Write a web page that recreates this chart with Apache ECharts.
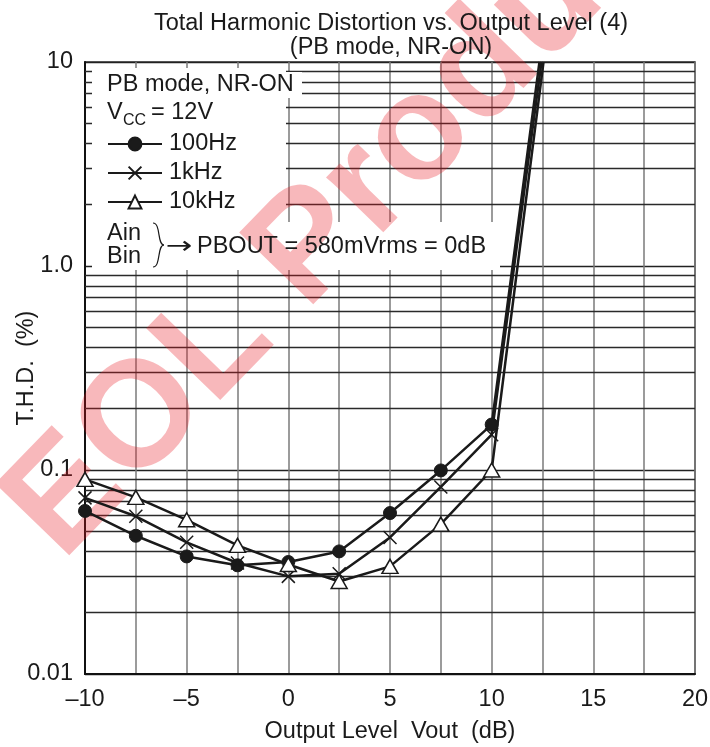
<!DOCTYPE html>
<html>
<head>
<meta charset="utf-8">
<script src="https://cdn.jsdelivr.net/npm/echarts@6/dist/echarts.min.js"></script>
<style>
  html, body { margin: 0; padding: 0; background: #fff; }
  #chart { width: 710px; height: 747px; }
</style>
</head>
<body>
<div id="chart"></div>
<script>
// output level (dB) at the measured points
const levels = [-10, -7.5, -5, -2.5, 0, 2.5, 5, 7.5, 10]
// T.H.D. (%)
const thd100Hz = [0.063, 0.0476, 0.0377, 0.0341, 0.0354, 0.0399, 0.0615, 0.0995, 0.167]
const thd1kHz = [0.073, 0.0593, 0.0442, 0.035, 0.0301, 0.031, 0.0467, 0.0826, 0.149]
const thd10kHz = [0.09, 0.0734, 0.057, 0.0427, 0.0344, 0.0284, 0.0337, 0.0543, 0.1]
// where each curve leaves the top of the plot (dB, %)
const clipLevel = [12.35, 12.45, 12.55]
const clipThd = 10

const xTicks = [-10, -5, 0, 5, 10, 15, 20]
const yTickLabels = { 0.01: '0.01', 0.1: '0.1', 1: '1.0', 10: '10' }
const minorGrid = [0.02, 0.03, 0.04, 0.05, 0.06, 0.07, 0.08, 0.09,
  0.2, 0.3, 0.4, 0.5, 0.6, 0.7, 0.8, 0.9,
  2, 3, 4, 5, 6, 7, 8, 9]

const FONT = "'Liberation Sans', Arial, sans-serif"
const INK = '#1a1a1a'
const FS = 23.5

function curve(vals, endX) {
  const pts = levels.map((x, i) => [x, vals[i]])
  pts.push({ value: [endX, clipThd], symbol: 'none' })
  return pts
}

function note(text, x, y, size, family) {
  return {
    type: 'text', z: 8, x: x, y: y,
    style: { text: text, fontSize: size || FS, fontFamily: family || FONT, fill: INK, verticalAlign: 'middle' }
  }
}

const chart = echarts.init(document.getElementById('chart'))

const option = {
  animation: false,
  textStyle: { fontFamily: FONT },
  title: {
    text: 'Total Harmonic Distortion vs. Output Level (4)\n(PB mode, NR-ON)',
    left: 386,
    top: 7,
    textAlign: 'center',
    textStyle: { fontSize: FS, fontWeight: 'normal', color: INK, lineHeight: 24, fontFamily: FONT }
  },
  grid: {
    left: 85, right: 15, top: 62, bottom: 73,
    outerBoundsMode: 'none',
    show: true, borderColor: '#333', borderWidth: 1.5
  },
  legend: {
    data: ['100Hz', '1kHz', '10kHz'],
    orient: 'vertical',
    left: 107,
    top: 132,
    padding: 0,
    itemWidth: 54,
    itemHeight: 16,
    itemGap: 5,
    z: 8,
    selectedMode: false,
    textStyle: { fontSize: FS, color: INK, fontFamily: FONT, padding: [0, 0, 0, 2] }
  },
  xAxis: {
    type: 'value',
    min: -10, max: 20, interval: 2.5,
    name: 'Output Level  Vout  (dB)',
    nameLocation: 'middle',
    nameGap: 46,
    nameMoveOverlap: false,
    nameTextStyle: { fontSize: FS, color: INK },
    axisLine: { onZero: false, lineStyle: { color: '#111', width: 2 } },
    axisTick: { show: false },
    axisLabel: {
      fontSize: FS, color: INK, margin: 14,
      formatter: v => xTicks.indexOf(v) < 0 ? '' : (v < 0 ? '\u2013' + (-v) : String(v))
    },
    splitLine: { show: true, lineStyle: { color: '#7a7a7a', width: 1.5 } }
  },
  yAxis: {
    type: 'log',
    logBase: 10,
    min: 0.01, max: 10,
    name: 'T.H.D.  (%)',
    nameLocation: 'middle',
    nameGap: 46,
    nameMoveOverlap: false,
    nameTextStyle: { fontSize: FS, color: INK },
    axisLine: { onZero: false, lineStyle: { color: '#111', width: 2 } },
    axisTick: { show: false },
    axisLabel: {
      fontSize: FS, color: INK, margin: 12,
      formatter: v => yTickLabels[v] || ''
    },
    splitLine: { show: true, lineStyle: { color: '#222', width: 1.3 } }
  },
  graphic: [
    // white box behind the notes
    { type: 'rect', z: 3, shape: { x: 92, y: 68, width: 194, height: 160 }, style: { fill: '#fff' } },
    { type: 'rect', z: 3, shape: { x: 92, y: 72, width: 210, height: 26 }, style: { fill: '#fff' } },
    { type: 'rect', z: 3, shape: { x: 92, y: 222, width: 408, height: 48 }, style: { fill: '#fff' } },
    // watermark
    {
      type: 'text', z: 4, x: 352, y: 205, rotation: 0.8,
      style: { text: 'EOL Product', fontSize: 150, fontWeight: 'bold', fontFamily: FONT,
        fill: 'rgba(232,20,30,0.3)', align: 'center', verticalAlign: 'middle' }
    },
    note('PB mode, NR-ON', 107, 85),
    note('V', 107, 113),
    note('CC', 123, 121, 16),
    note('= 12V', 151, 113),
    note('Ain', 107, 234),
    note('Bin', 107, 257),
    // brace joining Ain / Bin
    { type: 'bezierCurve', z: 8,
      shape: { x1: 153, y1: 223, cpx1: 161, cpy1: 223, cpx2: 157, cpy2: 245, x2: 164, y2: 245 },
      style: { fill: 'none', stroke: INK, lineWidth: 1.2 } },
    { type: 'bezierCurve', z: 8,
      shape: { x1: 164, y1: 245, cpx1: 157, cpy1: 245, cpx2: 161, cpy2: 267, x2: 153, y2: 267 },
      style: { fill: 'none', stroke: INK, lineWidth: 1.2 } },
    Object.assign(note('\u2192', 166, 247, FS, "'DejaVu Sans'"), { scaleX: 1.35 }),
    note('PBOUT = 580mVrms = 0dB', 197, 247)
  ],
  series: [
    {
      name: '100Hz',
      type: 'line',
      z: 5,
      data: curve(thd100Hz, clipLevel[0]),
      symbol: 'circle',
      symbolSize: 13,
      lineStyle: { color: INK, width: 2.5 },
      itemStyle: { color: INK, borderColor: INK, borderWidth: 1 },
      markLine: {
        silent: true,
        z: 1,
        symbol: 'none',
        label: { show: false },
        lineStyle: { color: '#2a2a2a', width: 1.3, type: 'solid' },
        data: minorGrid.map(v => ({ yAxis: v }))
      }
    },
    {
      name: '1kHz',
      type: 'line',
      z: 5,
      data: curve(thd1kHz, clipLevel[1]),
      symbol: 'path://M0,0L10,10M10,0L0,10',
      symbolSize: 13,
      lineStyle: { color: INK, width: 2.5 },
      itemStyle: { color: INK, borderColor: INK, borderWidth: 1.5 }
    },
    {
      name: '10kHz',
      type: 'line',
      z: 5,
      data: curve(thd10kHz, clipLevel[2]),
      symbol: 'triangle',
      symbolSize: [16, 14],
      lineStyle: { color: INK, width: 2.5 },
      itemStyle: { color: '#fff', borderColor: INK, borderWidth: 1.5 }
    }
  ]
}

chart.setOption(option)
</script>
</body>
</html>
